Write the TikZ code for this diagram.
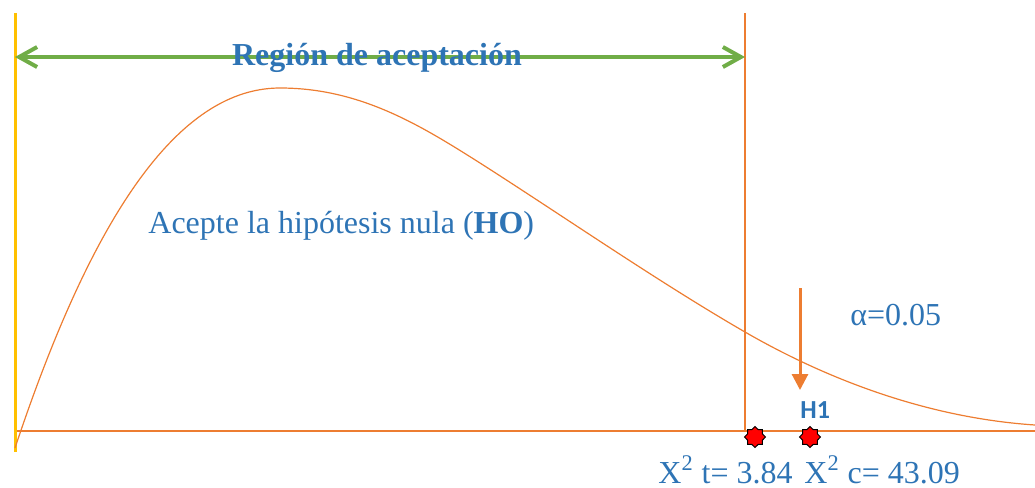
\documentclass[tikz,border=0pt]{standalone}
\usepackage{fontspec}
\setmainfont{Liberation Serif}
\newfontfamily\calibri{Carlito}
\usepackage{xcolor}
\usepackage{tikz}
\usetikzlibrary{shapes.geometric, arrows.meta, positioning}
\definecolor{txtblue}{RGB}{46,116,181}
\definecolor{offorange}{RGB}{237,125,49}
\definecolor{offgreen}{RGB}{112,173,71}
\definecolor{offyellow}{RGB}{255,192,0}
\tikzstyle{label} = [text=txtblue, font=\fontsize{16}{19}\selectfont, inner sep=0pt]
\tikzstyle{curve} = [draw=offorange, line width=0.6pt]
\tikzstyle{axisline} = [draw=offorange, line width=0.8pt]
\tikzstyle{marker} = [star, star points=8, star point ratio=1.3, minimum size=10.5pt, inner sep=0pt, fill=red, draw=black, line width=0.5pt]
\tikzstyle{regionarrow} = [draw=offgreen, line width=2pt, {Straight Barb[length=9pt,width=10pt]}-{Straight Barb[length=9pt,width=10pt]}]
\tikzstyle{alphaarrow} = [draw=offorange, line width=1.5pt, -{Triangle[length=8pt,width=8pt]}]

\begin{document}
\begin{tikzpicture}[x=0.5pt, y=-0.5pt]
	\useasboundingbox (0,0) rectangle (1035,488);
	
	% Axes
	\coordinate (ytop) at (15,13);
	\coordinate (ybot) at (15,452);
	\coordinate (xleft) at (15,431);
	\coordinate (xright) at (1035,431);
	\coordinate (crittop) at (745,13);
	\coordinate (critbot) at (745,431);
	\draw [axisline] (xleft) -- (xright);
	\draw [axisline] (crittop) -- (critbot);
	\draw [draw=offyellow, line width=1.5pt] (ytop) -- (ybot);
	
	% Curve
	\draw [curve] (15,448) .. controls (85,238) and (170,88) .. (280,88)
		.. controls (360,88) and (420,125) .. (480,163)
		.. controls (560,214) and (660,283) .. (745,332)
		.. controls (830,381) and (930,418) .. (1035,425);
	
	% Nodes
	\coordinate (regleft) at (15,57);
	\coordinate (regright) at (745,57);
	\coordinate (alphatop) at (800,288);
	\coordinate (alphatip) at (800,390);
	\node (accept) [label, anchor=base west] at (148,233) {Acepte la hipótesis nula (\textbf{HO})};
	\node (alpha) [label, anchor=base west] at (850,325) {α=0.05};
	\node (hone) [label, anchor=base west, font=\calibri\bfseries\fontsize{13}{15}\selectfont] at (800,418) {H1};
	\node (mt) [marker] at (755,437) {};
	\node (mc) [marker] at (810,437) {};
	\node (xt) [label, anchor=base west] at (658,483) {X\textsuperscript{2} t= 3.84};
	\node (xc) [label, anchor=base west] at (804,483) {X\textsuperscript{2} c= 43.09};
	
	% Arrows
	\draw [regionarrow] (regleft) -- (regright);
	\node (region) [label, font=\fontsize{16}{19}\selectfont\bfseries] at (377,58) {Región de aceptación};
	\draw [alphaarrow] (alphatop) -- (alphatip);
	
\end{tikzpicture}
\end{document}
